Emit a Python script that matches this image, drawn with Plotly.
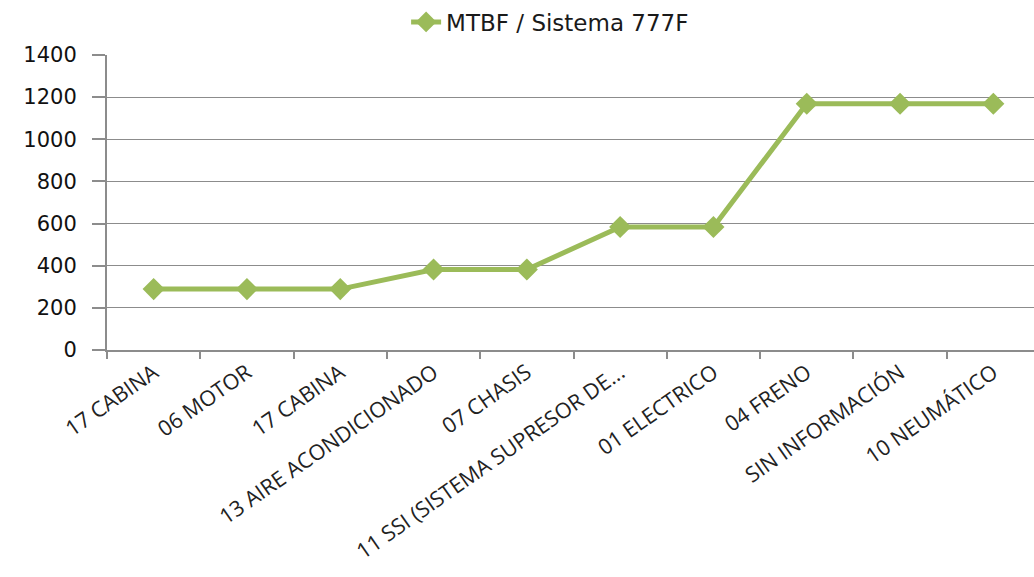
import plotly.graph_objects as go

# Systems (categories) in plotting order and their MTBF values
categories = [
    "17 CABINA",
    "06 MOTOR",
    "17 CABINA",
    "13 AIRE ACONDICIONADO",
    "07 CHASIS",
    "11 SSI (SISTEMA SUPRESOR DE...",
    "01 ELECTRICO",
    "04 FRENO",
    "SIN INFORMACIÓN",
    "10 NEUMÁTICO",
]
mtbf = [289, 289, 289, 382, 382, 584, 584, 1169, 1169, 1169]
y_ticks = [0, 200, 400, 600, 800, 1000, 1200, 1400]

series_name = "MTBF / Sistema 777F"
green = "#9BBB59"
grid = "#8c8c8c"

# numeric positions so repeated category names stay separate
positions = list(range(len(categories)))
boundaries = [p - 0.5 for p in positions] + [positions[-1] + 0.5]

fig = go.Figure()
fig.add_trace(
    go.Scatter(
        x=positions,
        y=mtbf,
        mode="lines+markers",
        name=series_name,
        line=dict(color=green, width=5),
        marker=dict(symbol="diamond", size=17, color=green),
    )
)

fig.update_layout(
    width=1034,
    height=577,
    paper_bgcolor="white",
    plot_bgcolor="white",
    margin=dict(l=107, r=0, t=55, b=227, autoexpand=False),
    showlegend=True,
    legend=dict(
        orientation="h",
        x=0.478,
        xanchor="center",
        y=1.112,
        yanchor="middle",
        font=dict(family="DejaVu Sans", size=23, color="#1a1a1a"),
        bgcolor="rgba(0,0,0,0)",
    ),
)

fig.update_xaxes(
    range=[-0.5, -0.5 + 927 / 93.3],
    tickmode="array",
    tickvals=positions,
    ticktext=categories,
    tickangle=-35,
    ticks="",
    showgrid=False,
    zeroline=False,
    showline=True,
    linecolor=grid,
    linewidth=1.5,
    tickfont=dict(family="Open Sans", size=21.5, color="#222222"),
    minor=dict(
        tickmode="array",
        tickvals=boundaries,
        ticks="outside",
        ticklen=7,
        tickwidth=2,
        tickcolor=grid,
        showgrid=False,
    ),
)

fig.update_yaxes(
    range=[0, 1400],
    tickmode="array",
    tickvals=y_ticks,
    ticks="outside",
    ticklen=13,
    tickwidth=1.5,
    tickcolor=grid,
    ticklabelstandoff=11,
    showgrid=True,
    gridcolor=grid,
    gridwidth=1.3,
    zeroline=False,
    showline=True,
    linecolor=grid,
    linewidth=2,
    tickfont=dict(family="DejaVu Sans", size=21, color="#111111"),
)

fig.write_html("out.html")
